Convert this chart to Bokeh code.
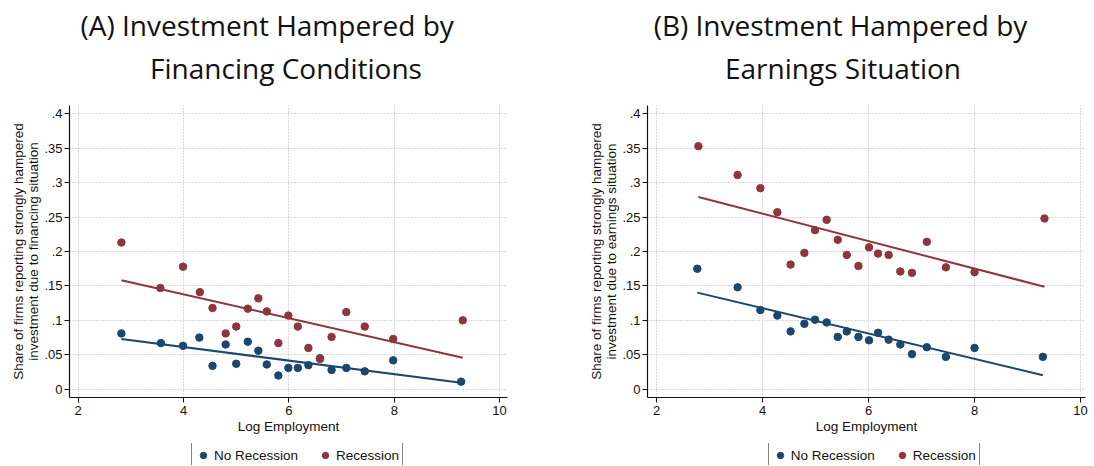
import numpy as np
from bokeh.plotting import figure
from bokeh.models import (Range1d, FixedTicker, CustomJSTickFormatter, Legend,
                          LegendItem)
from bokeh.layouts import row, column
from bokeh.core.properties import value
from bokeh.embed import file_html
from bokeh.resources import INLINE

# ---------------- data ----------------
titles_a = ["(A) Investment Hampered by", "Financing Conditions"]
titles_b = ["(B) Investment Hampered by", "Earnings Situation"]
ylabel_a = "Share of firms reporting strongly hampered\ninvestment due to financing situation"
ylabel_b = "Share of firms reporting strongly hampered\ninvestment due to earnings situation"
xlabel = "Log Employment"
series_names = ["No Recession", "Recession"]
series_colors = ["#1a476f", "#90353b"]

x_ticks = [2, 4, 6, 8, 10]
y_ticks = [0, 0.05, 0.1, 0.15, 0.2, 0.25, 0.3, 0.35, 0.4]
y_tick_labels = ["0", ".05", ".1", ".15", ".2", ".25", ".3", ".35", ".4"]

# Panel A: financing conditions
fin_norec_x = [2.82, 3.57, 3.99, 4.30, 4.55, 4.80, 5.00, 5.22, 5.42, 5.58,
               5.80, 5.99, 6.17, 6.37, 6.59, 6.81, 7.09, 7.44, 7.98, 9.27]
fin_norec_y = [0.081, 0.067, 0.063, 0.075, 0.034, 0.065, 0.037, 0.069, 0.056, 0.036,
               0.020, 0.031, 0.031, 0.035, 0.045, 0.028, 0.031, 0.026, 0.042, 0.011]
fin_rec_x = [2.82, 3.56, 3.99, 4.31, 4.55, 4.80, 5.00, 5.22, 5.42, 5.58,
             5.80, 5.99, 6.17, 6.37, 6.59, 6.81, 7.09, 7.44, 7.98, 9.30]
fin_rec_y = [0.213, 0.147, 0.178, 0.141, 0.118, 0.081, 0.091, 0.117, 0.132, 0.113,
             0.067, 0.107, 0.091, 0.060, 0.044, 0.076, 0.112, 0.091, 0.073, 0.100]

# Panel B: earnings situation
earn_norec_x = [2.77, 3.53, 3.96, 4.28, 4.53, 4.79, 4.99, 5.21, 5.42, 5.59,
                5.81, 6.01, 6.18, 6.38, 6.60, 6.82, 7.10, 7.46, 8.00, 9.29]
earn_norec_y = [0.175, 0.148, 0.115, 0.107, 0.084, 0.095, 0.101, 0.097, 0.076, 0.084,
                0.076, 0.071, 0.082, 0.072, 0.065, 0.051, 0.061, 0.047, 0.060, 0.047]
earn_rec_x = [2.79, 3.53, 3.96, 4.28, 4.53, 4.79, 4.99, 5.21, 5.42, 5.59,
              5.81, 6.01, 6.18, 6.38, 6.60, 6.82, 7.10, 7.46, 8.00, 9.32]
earn_rec_y = [0.353, 0.311, 0.292, 0.257, 0.181, 0.198, 0.231, 0.246, 0.217, 0.195,
              0.179, 0.206, 0.197, 0.195, 0.171, 0.169, 0.214, 0.177, 0.170, 0.248]

TICK_FONT = "Liberation Sans"
TITLE_FONT = "Open Sans"

TITLE_H = 90
MAIN_H = 353
LEG_H = 22

yfmt_code = """
let best = 0, bd = 1e9;
for (let i = 0; i < tvals.length; i++) {
  const d = Math.abs(tvals[i] - tick);
  if (d < bd) { bd = d; best = i; }
}
return tlabels[best];
"""


def blank_fig(width, height):
    f = figure(width=width, height=height, output_backend="svg", toolbar_location=None,
               x_range=Range1d(0, width), y_range=Range1d(0, height),
               x_axis_type=None, y_axis_type=None,
               min_border_left=0, min_border_right=0, min_border_top=0,
               min_border_bottom=0)
    f.outline_line_color = None
    f.xgrid.visible = False
    f.ygrid.visible = False
    f.background_fill_color = "white"
    f.border_fill_color = "white"
    return f


def make_title(width, titles, centers):
    t = blank_fig(width, TITLE_H)
    t.text(x=centers, y=[65.3, 22.8], text=titles,
           text_font=value(TITLE_FONT), text_font_size="28px",
           text_align="center", text_baseline="alphabetic", text_color="#111111")
    return t


def make_legend(width, legend_x):
    lf = blank_fig(width, LEG_H)
    items = []
    for name, color in zip(series_names, series_colors):
        # off-canvas sample point, only used to draw the legend swatch
        r = lf.scatter(x=[-1000], y=[-1000], size=7, fill_color=color, line_color=color,
                       marker="circle")
        items.append(LegendItem(label=name, renderers=[r]))
    legend = Legend(items=items, orientation="horizontal", location=(legend_x, -4),
                    border_line_color="#111111", border_line_width=1,
                    background_fill_color="white", background_fill_alpha=1,
                    padding=3, spacing=19, margin=0, glyph_width=16, glyph_height=20,
                    label_height=20, label_standoff=3,
                    label_text_font=TICK_FONT, label_text_font_size="13.5px",
                    label_text_color="#111111")
    lf.add_layout(legend, "center")
    return lf


def make_panel(width, bl, br, xr, ylabel, series):
    p = figure(width=width, height=MAIN_H, output_backend="svg", toolbar_location=None,
               x_range=Range1d(*xr), y_range=Range1d(-0.012, 0.412),
               min_border_left=bl, min_border_right=br, min_border_top=15,
               min_border_bottom=MAIN_H - 15 - 292)
    p.outline_line_color = None
    p.background_fill_color = "white"
    p.border_fill_color = "white"

    for ax in (p.xaxis[0], p.yaxis[0]):
        ax.axis_line_color = "#111111"
        ax.axis_line_width = 1.2
        ax.major_tick_line_color = "#111111"
        ax.major_tick_out = 5
        ax.major_tick_in = 0
        ax.minor_tick_line_color = None
        ax.major_label_text_font = TICK_FONT
        ax.major_label_text_font_size = "13px"
        ax.major_label_text_color = "#111111"
        ax.major_label_standoff = 3
        ax.axis_label_text_font = TICK_FONT
        ax.axis_label_text_font_size = "13.5px"
        ax.axis_label_text_font_style = "normal"
        ax.axis_label_text_color = "#111111"
        ax.axis_label_text_line_height = 1.0

    p.xaxis.ticker = FixedTicker(ticks=x_ticks)
    p.yaxis.ticker = FixedTicker(ticks=y_ticks)
    p.yaxis.formatter = CustomJSTickFormatter(args=dict(tvals=y_ticks, tlabels=y_tick_labels),
                                              code=yfmt_code)
    p.yaxis.major_label_standoff = 2
    p.xaxis.axis_label = xlabel
    p.xaxis.axis_label_standoff = 1
    p.yaxis.axis_label = ylabel
    p.yaxis.axis_label_standoff = 0

    p.xgrid.ticker = FixedTicker(ticks=x_ticks)
    p.ygrid.ticker = FixedTicker(ticks=y_ticks)
    for g in (p.xgrid[0], p.ygrid[0]):
        g.grid_line_color = "#b4b4b4"
        g.grid_line_dash = "1 2"
        g.grid_line_width = 1

    for (xs, ys, name, color) in series:
        xs_a = np.array(xs)
        ys_a = np.array(ys)
        b, a = np.polyfit(xs_a, ys_a, 1)
        fx = np.array([xs_a.min(), xs_a.max()])
        p.line(fx, a + b * fx, line_color=color, line_width=2)
        p.scatter(xs, ys, size=7.5, fill_color=color, line_color=color, marker="circle")
    return p


WA, WB = 578, 516
pa = make_panel(WA, 69, 71, (1.835, 10.15), ylabel_a,
                [(fin_norec_x, fin_norec_y, series_names[0], series_colors[0]),
                 (fin_rec_x, fin_rec_y, series_names[1], series_colors[1])])
pb = make_panel(WB, 69, 9, (1.83, 10.094), ylabel_b,
                [(earn_norec_x, earn_norec_y, series_names[0], series_colors[0]),
                 (earn_rec_x, earn_rec_y, series_names[1], series_colors[1])])
ta = make_title(WA, titles_a, [266.7, 285.5])
tb = make_title(WB, titles_b, [262.0, 264.5])
la = make_legend(WA, 191)
lb = make_legend(WB, 189.7)

layout = column(row(ta, tb), row(pa, pb), row(la, lb))
open("out.html", "w").write(file_html(layout, INLINE))
